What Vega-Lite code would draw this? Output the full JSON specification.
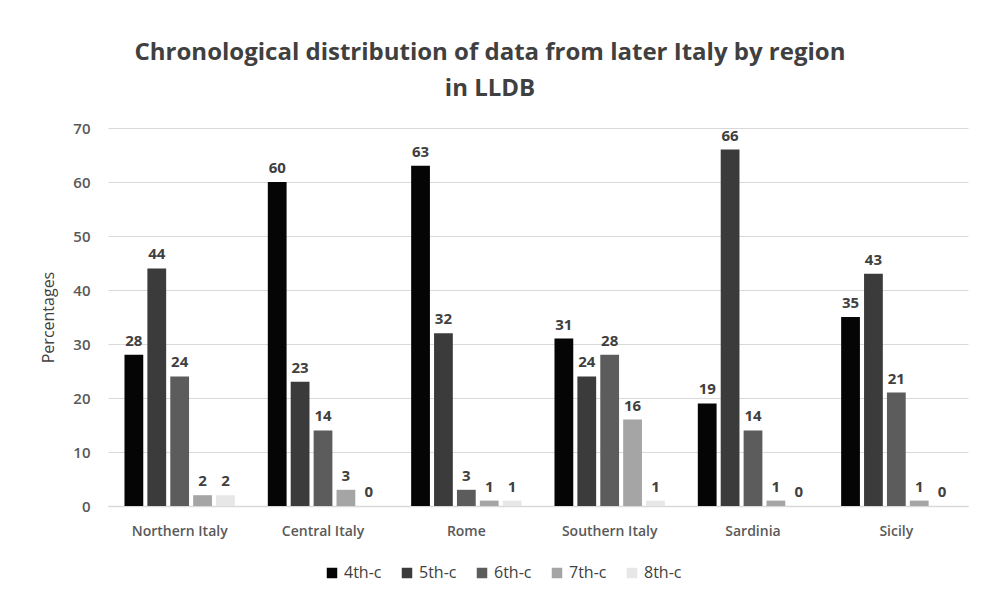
{
  "$schema": "https://vega.github.io/schema/vega-lite/v6.json",
  "autosize": {"type": "none"},
  "padding": {"left": 108, "top": 128, "right": 15, "bottom": 97},
  "width": 860,
  "height": 378,
  "background": "white",
  "title": {
    "text": ["Chronological distribution of data from later Italy by region", "in LLDB"],
    "font": "Open Sans",
    "fontSize": 24,
    "fontWeight": "bold",
    "color": "#404040",
    "anchor": "middle",
    "dx": -48,
    "offset": 20,
    "lineHeight": 36
  },
  "data": {
    "values": [
      {"region": "Northern Italy", "century": "4th-c", "value": 28},
      {"region": "Northern Italy", "century": "5th-c", "value": 44},
      {"region": "Northern Italy", "century": "6th-c", "value": 24},
      {"region": "Northern Italy", "century": "7th-c", "value": 2},
      {"region": "Northern Italy", "century": "8th-c", "value": 2},
      {"region": "Central Italy", "century": "4th-c", "value": 60},
      {"region": "Central Italy", "century": "5th-c", "value": 23},
      {"region": "Central Italy", "century": "6th-c", "value": 14},
      {"region": "Central Italy", "century": "7th-c", "value": 3},
      {"region": "Central Italy", "century": "8th-c", "value": 0},
      {"region": "Rome", "century": "4th-c", "value": 63},
      {"region": "Rome", "century": "5th-c", "value": 32},
      {"region": "Rome", "century": "6th-c", "value": 3},
      {"region": "Rome", "century": "7th-c", "value": 1},
      {"region": "Rome", "century": "8th-c", "value": 1},
      {"region": "Southern Italy", "century": "4th-c", "value": 31},
      {"region": "Southern Italy", "century": "5th-c", "value": 24},
      {"region": "Southern Italy", "century": "6th-c", "value": 28},
      {"region": "Southern Italy", "century": "7th-c", "value": 16},
      {"region": "Southern Italy", "century": "8th-c", "value": 1},
      {"region": "Sardinia", "century": "4th-c", "value": 19},
      {"region": "Sardinia", "century": "5th-c", "value": 66},
      {"region": "Sardinia", "century": "6th-c", "value": 14},
      {"region": "Sardinia", "century": "7th-c", "value": 1},
      {"region": "Sardinia", "century": "8th-c", "value": 0},
      {"region": "Sicily", "century": "4th-c", "value": 35},
      {"region": "Sicily", "century": "5th-c", "value": 43},
      {"region": "Sicily", "century": "6th-c", "value": 21},
      {"region": "Sicily", "century": "7th-c", "value": 1},
      {"region": "Sicily", "century": "8th-c", "value": 0}
    ]
  },
  "encoding": {
    "x": {
      "field": "region",
      "type": "nominal",
      "sort": null,
      "scale": {"paddingInner": 0.23, "paddingOuter": 0.115},
      "axis": {
        "title": null,
        "labelAngle": 0,
        "labelFont": "Open Sans",
        "labelFontSize": 14,
        "labelFontWeight": 600,
        "labelColor": "#595959",
        "labelPadding": 18,
        "ticks": false,
        "domainColor": "#d9d9d9",
        "domainWidth": 1.5
      }
    },
    "xOffset": {
      "field": "century",
      "type": "nominal",
      "sort": null,
      "scale": {"paddingInner": 0.18}
    },
    "y": {
      "field": "value",
      "type": "quantitative",
      "scale": {"domain": [0, 70], "nice": false},
      "axis": {
        "title": "Percentages",
        "titleFont": "Open Sans",
        "titleFontSize": 16,
        "titleFontWeight": "normal",
        "titleColor": "#404040",
        "titlePadding": 16,
        "values": [0, 10, 20, 30, 40, 50, 60, 70],
        "labelOverlap": false,
        "labelFont": "Open Sans",
        "labelFontSize": 15,
        "labelFontWeight": 600,
        "labelColor": "#595959",
        "labelPadding": 18,
        "ticks": false,
        "domain": false,
        "grid": true,
        "gridColor": "#d9d9d9",
        "gridWidth": 1.2
      }
    }
  },
  "layer": [
    {
      "mark": {"type": "bar"},
      "encoding": {
        "color": {
          "field": "century",
          "type": "nominal",
          "sort": null,
          "scale": {
            "domain": ["4th-c", "5th-c", "6th-c", "7th-c", "8th-c"],
            "range": ["#050505", "#3b3b3b", "#5c5c5c", "#a5a5a5", "#e7e7e7"]
          },
          "legend": {
            "title": null,
            "orient": "none",
            "direction": "horizontal",
            "legendX": 216,
            "legendY": 437,
            "symbolType": "square",
            "symbolSize": 110,
            "symbolStrokeWidth": 0,
            "labelFont": "Open Sans",
            "labelFontSize": 16,
            "labelColor": "#404040",
            "columnPadding": 17,
            "labelOffset": 4
          }
        }
      }
    },
    {
      "mark": {
        "type": "text",
        "baseline": "bottom",
        "dy": -6,
        "font": "Open Sans",
        "fontSize": 15,
        "fontWeight": "bold",
        "color": "#404040"
      },
      "encoding": {
        "text": {"field": "value", "type": "quantitative"}
      }
    }
  ],
  "config": {
    "view": {"stroke": null}
  }
}
